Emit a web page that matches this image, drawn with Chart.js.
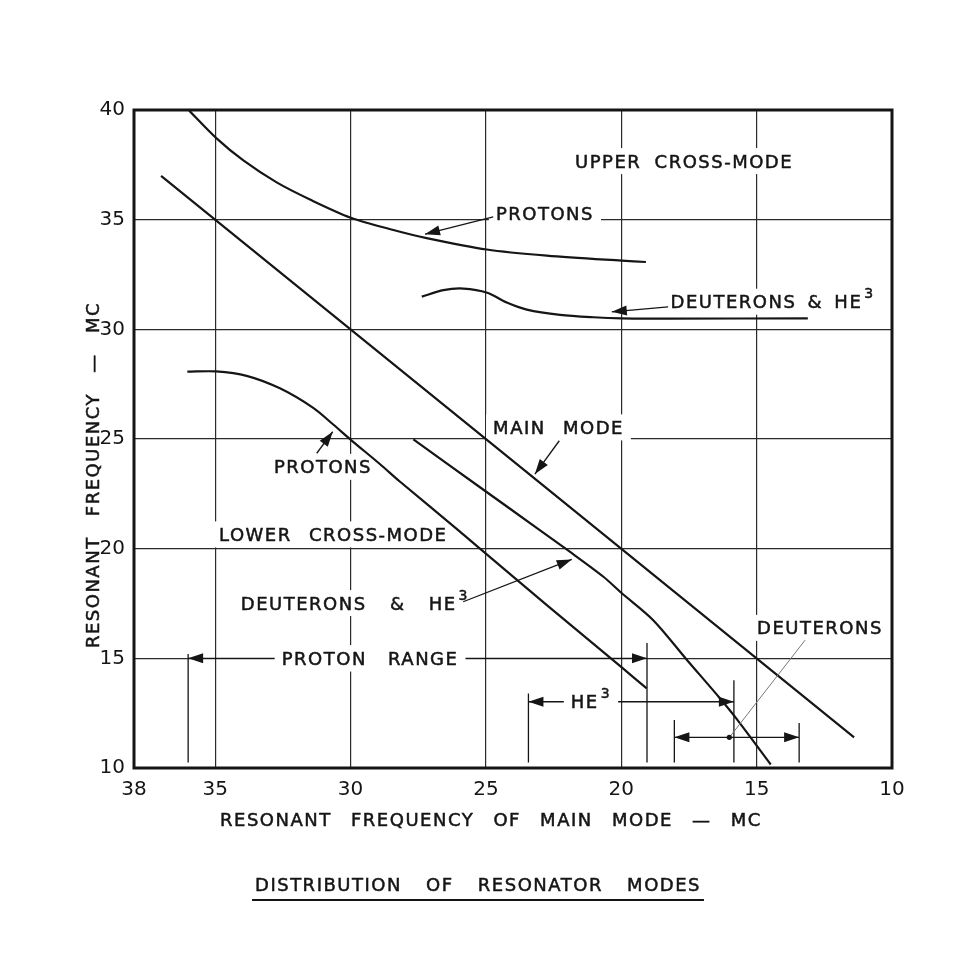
<!DOCTYPE html>
<html><head><meta charset="utf-8">
<title>Distribution of Resonator Modes</title>
<script src="https://cdn.jsdelivr.net/npm/chart.js"></script>
<style>
  html, body { margin: 0; padding: 0; background: #ffffff; }
  #wrap { width: 975px; height: 971px; }
</style>
</head>
<body>
<div id="wrap"><canvas id="modes" width="975" height="971"></canvas></div>
<script>
// tick values
const xTicks = [38, 35, 30, 25, 20, 15, 10];
const yTicks = [10, 15, 20, 25, 30, 35, 40];

// main mode (straight diagonal)
const mainModeX = [37.0, 11.4];
const mainModeY = [37.0, 11.4];

// upper cross-mode, protons
const upProtonsX = [35.96, 34.97, 33.96, 32.73, 31.5, 29.99, 28.42, 27.19, 24.97, 22.75, 19.98, 19.09];
const upProtonsY = [39.97, 38.73, 37.70, 36.70, 35.92, 35.09, 34.53, 34.16, 33.64, 33.36, 33.13, 33.07];

// upper cross-mode, deuterons & He3
const upDeutX = [27.37, 26.57, 25.83, 24.95, 24.23, 23.49, 22.26, 21.03, 19.98, 18.2, 13.11];
const upDeutY = [31.49, 31.79, 31.86, 31.67, 31.22, 30.90, 30.66, 30.55, 30.50, 30.49, 30.5];

// lower cross-mode, protons
const lowProtonsX = [36.03, 34.97, 33.84, 32.61, 31.38, 30.64, 29.98, 28.91, 28.17, 25.96, 25.22, 22.75, 19.95, 19.06];
const lowProtonsY = [28.07, 28.08, 27.88, 27.31, 26.42, 25.66, 24.95, 23.85, 23.05, 20.78, 20.0, 17.43, 14.55, 13.63];

// lower cross-mode, deuterons & He3
const lowDeutX = [27.68, 25.22, 24.11, 21.89, 20.66, 20.0, 18.82, 17.59, 16.35, 15.74, 14.48];
const lowDeutY = [24.98, 22.8, 21.82, 19.85, 18.72, 17.99, 16.74, 14.95, 13.17, 12.24, 10.16];

const FONT = 'DejaVu Sans';
const INK = '#151515';

function pts(xs, ys) { return xs.map((x, i) => ({ x: x, y: ys[i] })); }
function curve(xs, ys) {
  return {
    data: pts(xs, ys), showLine: true, pointRadius: 0, borderColor: INK,
    borderWidth: 2.2, tension: 0.3, fill: false
  };
}

// text labels (data coords of centre)
const labels = [
  { text: 'UPPER CROSS-MODE', x: 17.68, y: 37.67, ws: 6 },
  { text: 'PROTONS', x: 22.82, y: 35.30 },
  { text: 'DEUTERONS & HE', sup: '3', x: 14.41, y: 31.26, ws: 4 },
  { text: 'MAIN MODE', x: 22.32, y: 25.53 },
  { text: 'PROTONS', x: 31.02, y: 23.73 },
  { text: 'LOWER CROSS-MODE', x: 30.64, y: 20.65 },
  { text: 'DEUTERONS & HE', sup: '3', x: 29.84, y: 17.52, ws: 16 },
  { text: 'PROTON RANGE', x: 29.28, y: 15.0, ws: 14, over: true },
  { text: 'HE', sup: '3', x: 21.12, y: 13.02, over: true },
  { text: 'DEUTERONS', x: 12.66, y: 16.39 }
];

// pointer arrows: from -> to (head at "to")
const pointers = [
  [24.73, 35.13, 27.25, 34.34],
  [18.27, 31.02, 20.35, 30.80],
  [22.29, 24.92, 23.19, 23.40],
  [31.25, 24.35, 30.66, 25.33],
  [25.84, 17.58, 21.83, 19.51]
];

// range bars: [xLeft, xRight, y, leftTickTop, rightTickTop]
const ranges = [
  [36.0, 19.05, 15.0, 15.2, 15.7],
  [23.43, 15.84, 13.02, 13.4, 14.0],
  [18.04, 13.43, 11.4, 12.19, 12.05]
];

function setFont(ctx, size, ws) {
  ctx.font = size + 'px "' + FONT + '"';
  ctx.letterSpacing = '1.5px';
  ctx.wordSpacing = (ws === undefined ? 10 : ws) + 'px';
}

// text with a slightly heavier pen
function pen(ctx, t, x, y) {
  ctx.fillText(t, x, y);
  ctx.lineWidth = 0.5;
  ctx.strokeStyle = INK;
  ctx.strokeText(t, x, y);
}

function labelGeom(ctx, chart, l) {
  const size = 18;
  setFont(ctx, size, l.ws);
  const w = ctx.measureText(l.text).width;
  let sw = 0;
  if (l.sup) { setFont(ctx, 14, 0); sw = ctx.measureText(l.sup).width + 2; }
  const cx = chart.scales.x.getPixelForValue(l.x);
  const cy = chart.scales.y.getPixelForValue(l.y);
  const total = w + sw;
  return { left: cx - total / 2, w: w, total: total, base: cy + size * 0.365, cy: cy, size: size };
}

function arrowHead(ctx, x0, y0, x1, y1, len, half) {
  const a = Math.atan2(y1 - y0, x1 - x0);
  ctx.beginPath();
  ctx.moveTo(x1, y1);
  ctx.lineTo(x1 - len * Math.cos(a) + half * Math.sin(a), y1 - len * Math.sin(a) - half * Math.cos(a));
  ctx.lineTo(x1 - len * Math.cos(a) - half * Math.sin(a), y1 - len * Math.sin(a) + half * Math.cos(a));
  ctx.closePath();
  ctx.fill();
}

function whiteBox(ctx, g) {
  ctx.fillStyle = '#ffffff';
  ctx.fillRect(g.left - 7, g.cy - 13, g.total + 14, 26);
}

const annot = {
  id: 'annot',
  beforeDatasetsDraw(chart) {
    const ctx = chart.ctx;
    ctx.save();
    labels.forEach(l => whiteBox(ctx, labelGeom(ctx, chart, l)));
    ctx.restore();
  },
  afterDatasetsDraw(chart) {
    const ctx = chart.ctx, xs = chart.scales.x, ys = chart.scales.y;
    const X = v => xs.getPixelForValue(v), Y = v => ys.getPixelForValue(v);
    ctx.save();
    ctx.strokeStyle = INK; ctx.fillStyle = INK; ctx.lineWidth = 1.3;

    pointers.forEach(p => {
      ctx.beginPath();
      ctx.moveTo(X(p[0]), Y(p[1])); ctx.lineTo(X(p[2]), Y(p[3]));
      ctx.stroke();
      arrowHead(ctx, X(p[0]), Y(p[1]), X(p[2]), Y(p[3]), 15, 5);
    });

    ranges.forEach(r => {
      const yl = Y(r[2]), xl = X(r[0]), xr = X(r[1]), bot = Y(10.25);
      ctx.beginPath();
      ctx.moveTo(xl, yl); ctx.lineTo(xr, yl);
      ctx.moveTo(xl, Y(r[3])); ctx.lineTo(xl, bot);
      ctx.moveTo(xr, Y(r[4])); ctx.lineTo(xr, bot);
      ctx.stroke();
      arrowHead(ctx, xl + 20, yl, xl, yl, 15, 5);
      arrowHead(ctx, xr - 20, yl, xr, yl, 15, 5);
    });

    // deuterons leader with dot
    ctx.strokeStyle = '#777'; ctx.lineWidth = 1;
    ctx.beginPath();
    ctx.moveTo(X(13.21), Y(15.83)); ctx.lineTo(X(16.01), Y(11.39));
    ctx.stroke();
    ctx.fillStyle = INK;
    ctx.beginPath(); ctx.arc(X(16.01), Y(11.4), 2.6, 0, Math.PI * 2); ctx.fill();

    // texts
    labels.forEach(l => {
      const g = labelGeom(ctx, chart, l);
      if (l.over) whiteBox(ctx, g);
      ctx.fillStyle = INK;
      ctx.textAlign = 'left'; ctx.textBaseline = 'alphabetic';
      setFont(ctx, g.size, l.ws);
      pen(ctx, l.text, g.left, g.base);
      if (l.sup) {
        setFont(ctx, 14, 0);
        pen(ctx, l.sup, g.left + g.w + 2, g.base - g.size * 0.55);
      }
    });

    // frame
    const a = chart.chartArea;
    ctx.strokeStyle = INK; ctx.lineWidth = 3;
    ctx.strokeRect(a.left, a.top, a.right - a.left, a.bottom - a.top);
    ctx.restore();
  },
  afterDraw(chart) {
    const ctx = chart.ctx;
    ctx.save();
    ctx.fillStyle = INK;
    ctx.textAlign = 'center'; ctx.textBaseline = 'alphabetic';
    const cap = 18 * 0.365;

    setFont(ctx, 18, 12);
    pen(ctx, 'RESONANT FREQUENCY OF MAIN MODE — MC', 491, 819 + cap);

    ctx.save();
    ctx.translate(92, 475);
    ctx.rotate(-Math.PI / 2);
    setFont(ctx, 18, 13);
    pen(ctx, 'RESONANT FREQUENCY — MC', 0, cap);
    ctx.restore();

    setFont(ctx, 18, 17);
    const t = 'DISTRIBUTION OF RESONATOR MODES';
    pen(ctx, t, 478, 884 + cap);
    const tw = ctx.measureText(t).width;
    ctx.strokeStyle = INK; ctx.lineWidth = 2;
    ctx.beginPath(); ctx.moveTo(478 - tw / 2 - 3, 900); ctx.lineTo(478 + tw / 2 + 3, 900); ctx.stroke();
    ctx.restore();
  }
};

const tickFont = { family: FONT, size: 20 };

new Chart(document.getElementById('modes').getContext('2d'), {
  type: 'scatter',
  data: {
    datasets: [
      curve(mainModeX, mainModeY),
      curve(upProtonsX, upProtonsY),
      curve(upDeutX, upDeutY),
      curve(lowProtonsX, lowProtonsY),
      curve(lowDeutX, lowDeutY)
    ]
  },
  options: {
    responsive: false,
    animation: false,
    layout: { padding: { left: 0, top: 110, right: 83, bottom: 143 } },
    plugins: { legend: { display: false }, tooltip: { enabled: false } },
    scales: {
      x: {
        type: 'linear', reverse: true, min: 10, max: 38,
        afterBuildTicks: s => { s.ticks = xTicks.map(v => ({ value: v })); },
        afterFit: s => { s.height = 60; },
        grid: { color: '#2a2a2a', lineWidth: 1.2, drawTicks: false },
        border: { display: false },
        ticks: { padding: 10, font: tickFont, color: INK, maxRotation: 0, autoSkip: false }
      },
      y: {
        type: 'linear', min: 10, max: 40,
        afterBuildTicks: s => { s.ticks = yTicks.map(v => ({ value: v })); },
        afterFit: s => { s.width = 134; },
        grid: { color: '#2a2a2a', lineWidth: 1.2, drawTicks: false },
        border: { display: false },
        ticks: { padding: 9, font: tickFont, color: INK, autoSkip: false }
      }
    }
  },
  plugins: [annot]
});
</script>
</body></html>
